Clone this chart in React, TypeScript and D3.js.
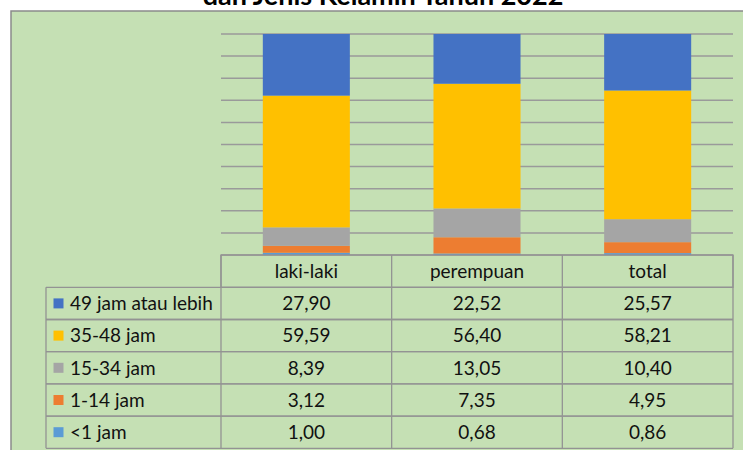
import React from "react";
import * as d3 from "d3";

const categories = ["laki-laki", "perempuan", "total"];
const seriesNames = ["49 jam atau lebih", "35-48 jam", "15-34 jam", "1-14 jam", "<1 jam"];
const seriesColors = ["#4472C4", "#FFC000", "#A5A5A5", "#ED7D31", "#5B9BD5"];
const v49 = [27.9, 22.52, 25.57];
const v35 = [59.59, 56.4, 58.21];
const v15 = [8.39, 13.05, 10.4];
const v1 = [3.12, 7.35, 4.95];
const vlt1 = [1.0, 0.68, 0.86];
const labels49 = ["27,90", "22,52", "25,57"];
const labels35 = ["59,59", "56,40", "58,21"];
const labels15 = ["8,39", "13,05", "10,40"];
const labels1 = ["3,12", "7,35", "4,95"];
const labelsLt1 = ["1,00", "0,68", "0,86"];
const yTicks = [0, 10, 20, 30, 40, 50, 60, 70, 80, 90, 100];
const title = "dan Jenis Kelamin Tahun 2022";

const W = 743;
const H = 450;
const FONT = "Lato, 'Noto Sans', sans-serif";

export default function App() {
  const seriesValues = [v49, v35, v15, v1, vlt1];
  const seriesLabels = [labels49, labels35, labels15, labels1, labelsLt1];
  const rows = categories.map((c, i) => {
    const o: any = { cat: c };
    seriesNames.forEach((s, k) => (o[s] = seriesValues[k][i]));
    return o;
  });
  const keysBottomUp = [...seriesNames].reverse();
  const stack = d3.stack<any>().keys(keysBottomUp).offset(d3.stackOffsetExpand);
  const stacked = stack(rows);

  const plotLeft = 221;
  const plotRight = 733;
  const plotTop = 34;
  const plotBottom = 255;

  const x = d3.scaleBand<string>().domain(categories).range([plotLeft, plotRight]).paddingInner(0).paddingOuter(0);
  const y = d3.scaleLinear().domain([0, 1]).range([plotBottom, plotTop]);
  const barW = x.bandwidth() * 0.51;

  const headerH = 32.3;
  const rowH = 32.2;
  const legendLeft = 46;
  const tableTop = plotBottom;
  const lineColor = "#939393";
  const fs = 19;

  return (
    <div>
      <style>{`body{margin:0;background:#fff}`}</style>
      <svg width={W} height={H} style={{ display: "block" }}>
        <rect x={11} y={11} width={W} height={H} fill="#C5E0B4" stroke="#8a8a8a" strokeWidth={1.5} />
        <text x={383} y={5} textAnchor="middle" fontFamily={FONT} fontWeight="bold" fontSize={27} fill="#000">
          {title}
        </text>
        {yTicks.map((t) => (
          <line key={t} x1={plotLeft} x2={plotRight} y1={y(t / 100)} y2={y(t / 100)} stroke="#9a9a9a" strokeWidth={1.5} />
        ))}
        {stacked.map((layer) => {
          const k = seriesNames.indexOf(layer.key as string);
          return (
            <g key={layer.key as string}>
              {layer.map((d, i) => (
                <rect
                  key={i}
                  x={(x(categories[i]) as number) + (x.bandwidth() - barW) / 2}
                  width={barW}
                  y={y(d[1])}
                  height={y(d[0]) - y(d[1])}
                  fill={seriesColors[k]}
                />
              ))}
            </g>
          );
        })}
        <rect x={plotLeft} y={tableTop} width={plotRight - plotLeft} height={headerH} fill="none" stroke={lineColor} strokeWidth={1.3} />
        {categories.map((c) => (
          <g key={c}>
            <line x1={x(c)} x2={x(c)} y1={tableTop} y2={tableTop + headerH + rowH * 5} stroke={lineColor} strokeWidth={1.3} />
            <text x={(x(c) as number) + x.bandwidth() / 2} y={tableTop + headerH / 2 + 6.8} textAnchor="middle" fontFamily={FONT} fontSize={fs} fill="#111">
              {c}
            </text>
          </g>
        ))}
        <line x1={plotRight} x2={plotRight} y1={tableTop} y2={tableTop + headerH + rowH * 5} stroke={lineColor} strokeWidth={1.3} />
        <line x1={legendLeft} x2={legendLeft} y1={tableTop + headerH} y2={tableTop + headerH + rowH * 5} stroke={lineColor} strokeWidth={1.3} />
        {seriesNames.map((s, k) => {
          const ry = tableTop + headerH + rowH * k;
          return (
            <g key={s}>
              <line x1={legendLeft} x2={plotRight} y1={ry} y2={ry} stroke={lineColor} strokeWidth={1.3} />
              <line x1={legendLeft} x2={plotRight} y1={ry + rowH} y2={ry + rowH} stroke={lineColor} strokeWidth={1.3} />
              <rect x={53.5} y={ry + rowH / 2 - 5} width={10} height={10} fill={seriesColors[k]} />
              <text x={70} y={ry + rowH / 2 + 6.8} fontFamily={FONT} fontSize={fs} fill="#111">
                {s}
              </text>
              {categories.map((c, i) => (
                <text key={c} x={(x(c) as number) + x.bandwidth() / 2} y={ry + rowH / 2 + 6.8} textAnchor="middle" fontFamily={FONT} fontSize={fs} fill="#111">
                  {seriesLabels[k][i]}
                </text>
              ))}
            </g>
          );
        })}
      </svg>
    </div>
  );
}
